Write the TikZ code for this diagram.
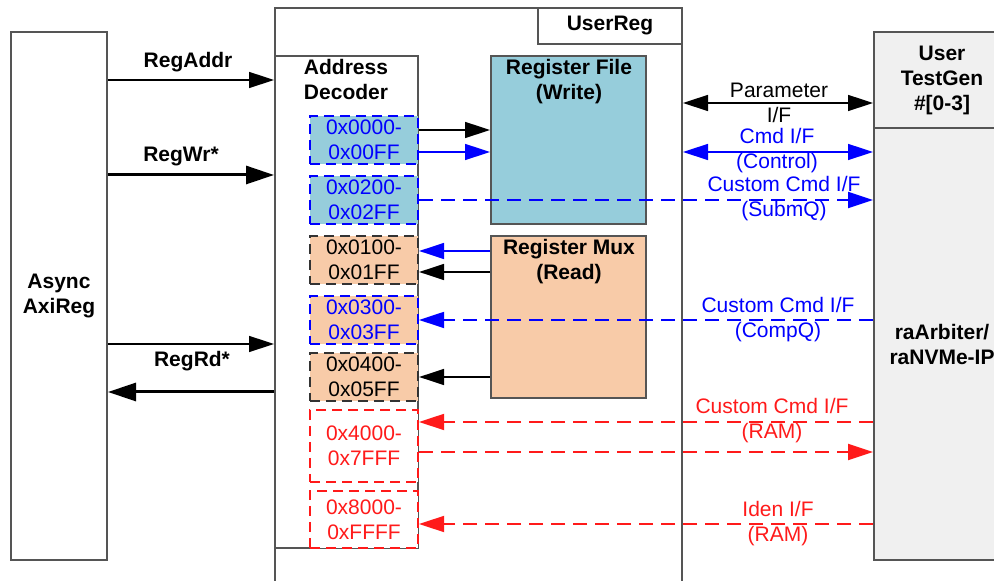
\documentclass[tikz,border=0pt]{standalone}
\usepackage{fontspec}
\setmainfont{Liberation Sans}
\usetikzlibrary{arrows.meta}

\definecolor{wrfill}{HTML}{96CDDB}
\definecolor{rdfill}{HTML}{F8CBA8}
\definecolor{ipfill}{HTML}{F0F0F0}
\definecolor{edgegray}{HTML}{555555}
\definecolor{ifblue}{HTML}{0000FF}
\definecolor{ifred}{HTML}{FF1A1A}

\tikzset{
  txt/.style={font=\fontsize{10.5}{12.5}\selectfont, align=center, inner sep=0pt},
  btxt/.style={font=\fontsize{10.5}{12.5}\selectfont\bfseries, align=center, inner sep=0pt},
  blk/.style={draw=edgegray, line width=1pt, inner sep=0pt, minimum width=#1},
  blk/.default=10pt,
  rng/.style={txt, draw, line width=1.1pt, dash pattern=on 5pt off 3pt, minimum width=54pt, minimum height=#1},
  rng/.default=24pt,
  wire/.style={line width=0.75pt, -{Triangle[length=12.5pt,width=8pt]}},
  wireboth/.style={line width=0.75pt, {Triangle[length=12.5pt,width=8pt]}-{Triangle[length=12.5pt,width=8pt]}},
  thickwire/.style={line width=1.5pt, -{Triangle[length=14pt,width=9pt]}},
  dwire/.style={line width=1pt, dash pattern=on 7pt off 4pt, -{Triangle[length=12.5pt,width=8pt]}},
}

\begin{document}
\begin{tikzpicture}[x=0.5pt, y=-0.5pt]
  \useasboundingbox (0,0) rectangle (994,581);
  \clip (0,0) rectangle (994,581);

  % row levels of the connectors
  \coordinate (yAddr)  at (0,80);
  \coordinate (yWr)    at (0,175);
  \coordinate (yRdIn)  at (0,344);
  \coordinate (yRdOut) at (0,392);
  \coordinate (yW1)    at (0,130);
  \coordinate (yW2)    at (0,152);
  \coordinate (ySub)   at (0,200);
  \coordinate (yR1)    at (0,251);
  \coordinate (yR2)    at (0,272);
  \coordinate (yCmp)   at (0,320);
  \coordinate (yR3)    at (0,377);
  \coordinate (yRam1)  at (0,422);
  \coordinate (yRam2)  at (0,452);
  \coordinate (yIden)  at (0,524);
  \coordinate (yPar)   at (0,103);
  \coordinate (yCtl)   at (0,152);

  % blocks
  \node[blk=48pt, btxt, minimum height=264pt] (axi) at (59,296) {Async\\AxiReg};
  \node[blk=203.5pt, minimum height=296pt] (ureg) at (478.5,304) {};
  \node[blk=72pt, btxt, fill=white, minimum height=18pt] (uregt) at (610,26) {UserReg};
  \node[blk=71.5pt, minimum height=246pt] (dec) at (346.5,302) {};
  \node[btxt] (declbl) at (346,79.5) {Address\\Decoder};

  \node[blk=77.5pt, fill=wrfill, minimum height=84pt] (rf) at (568.5,140) {};
  \node[btxt] (rflbl) at (569,81.5) {Register File\\(Write)};
  \node[blk=77.5pt, fill=rdfill, minimum height=81pt] (rm) at (568.5,317) {};
  \node[btxt] (rmlbl) at (569,261.5) {Register Mux\\(Read)};

  \node[blk=68pt, btxt, fill=ipfill, minimum height=48pt] (tg) at (942,80) {User\\TestGen\\\#[0-3]};
  \node[blk=68pt, btxt, fill=ipfill, minimum height=216pt] (ip) at (942,344) {raArbiter/\\raNVMe-IP};

  % address ranges
  \node[rng, fill=wrfill, draw=ifblue, text=ifblue] (b1) at (364,140) {0x0000-\\0x00FF};
  \node[rng, fill=wrfill, draw=ifblue, text=ifblue] (b2) at (364,200) {0x0200-\\0x02FF};
  \node[rng, fill=rdfill, draw=black!80, text=black] (b3) at (364,260) {0x0100-\\0x01FF};
  \node[rng, fill=rdfill, draw=ifblue, text=ifblue] (b4) at (364,320) {0x0300-\\0x03FF};
  \node[rng, fill=rdfill, draw=black!80, text=black] (b5) at (364,377) {0x0400-\\0x05FF};
  \node[rng=36pt, fill=white, draw=ifred, text=ifred] (b6) at (364,446) {0x4000-\\0x7FFF};
  \node[rng=28.5pt, fill=white, draw=ifred, text=ifred] (b7) at (364,519.5) {0x8000-\\0xFFFF};

  % AsyncAxiReg <-> address decoder
  \draw[wire] (axi.east |- yAddr) -- (dec.west |- yAddr);
  \draw[thickwire] (axi.east |- yWr) -- (dec.west |- yWr);
  \draw[wire] (axi.east |- yRdIn) -- (dec.west |- yRdIn);
  \draw[thickwire] (dec.west |- yRdOut) -- (axi.east |- yRdOut);
  \node[btxt] (lAddr) at (188,62) {RegAddr};
  \node[btxt] (lWr) at (181,157) {RegWr*};
  \node[btxt] (lRd) at (192,361) {RegRd*};

  % decoder <-> register file / mux
  \draw[wire] (b1.east |- yW1) -- (rf.west |- yW1);
  \draw[wire, ifblue] (b1.east |- yW2) -- (rf.west |- yW2);
  \draw[wire, ifblue] (rm.west |- yR1) -- (b3.east |- yR1);
  \draw[wire] (rm.west |- yR2) -- (b3.east |- yR2);
  \draw[wire] (rm.west |- yR3) -- (b5.east |- yR3);

  % interfaces to the user side
  \draw[wireboth] (ureg.east |- yPar) -- (tg.west |- yPar);
  \draw[wireboth, ifblue] (ureg.east |- yCtl) -- (ip.west |- yCtl);
  \draw[dwire, ifblue] (b2.east |- ySub) -- (ip.west |- ySub);
  \draw[dwire, ifblue] (ip.west |- yCmp) -- (b4.east |- yCmp);
  \draw[dwire, ifred] (ip.west |- yRam1) -- (b6.east |- yRam1);
  \draw[dwire, ifred] (b6.east |- yRam2) -- (ip.west |- yRam2);
  \draw[dwire, ifred] (ip.west |- yIden) -- (b7.east |- yIden);

  \node[txt] (lPar) at (779,102.5) {Parameter\\I/F};
  \node[txt, text=ifblue] (lCtl) at (777,151) {Cmd I/F\\(Control)};
  \node[txt, text=ifblue] (lSub) at (784,198.5) {Custom Cmd I/F\\(SubmQ)};
  \node[txt, text=ifblue] (lCmp) at (778,320) {Custom Cmd I/F\\(CompQ)};
  \node[txt, text=ifred] (lRam) at (772,421) {Custom Cmd I/F\\(RAM)};
  \node[txt, text=ifred] (lIden) at (778,523.5) {Iden I/F\\(RAM)};
\end{tikzpicture}
\end{document}
